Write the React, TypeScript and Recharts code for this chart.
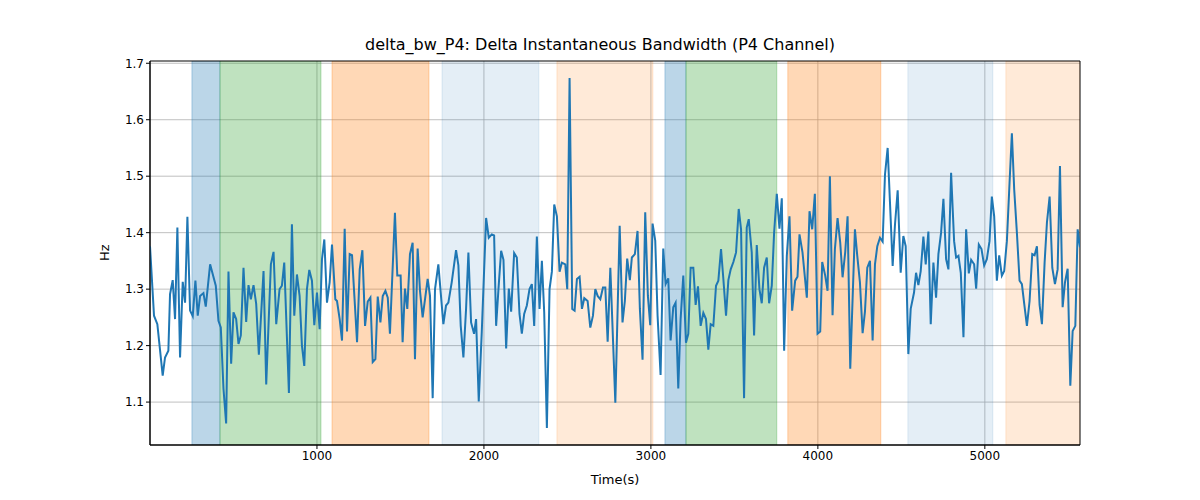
import { LineChart, Line, XAxis, YAxis, CartesianGrid, ReferenceArea } from 'recharts';

// [time, Hz], left to right
const partA: [number, number][] = [
  [0, 1.376], [24, 1.253], [44, 1.238], [76, 1.147], [90, 1.179], [110, 1.191], [120, 1.291], [136, 1.316],
  [150, 1.247], [164, 1.409], [180, 1.179], [196, 1.313], [210, 1.276], [224, 1.428], [240, 1.262], [256, 1.252],
  [272, 1.315], [286, 1.253], [300, 1.288], [320, 1.293], [334, 1.269], [360, 1.344], [394, 1.306], [410, 1.244],
  [424, 1.232], [440, 1.124], [456, 1.062], [470, 1.331], [486, 1.168], [500, 1.259], [516, 1.247], [530, 1.203],
  [544, 1.218], [560, 1.338], [576, 1.242], [590, 1.307], [604, 1.282], [620, 1.307], [636, 1.274], [652, 1.184],
  [680, 1.332], [696, 1.131], [724, 1.344], [740, 1.366], [756, 1.238], [776, 1.3], [790, 1.306], [804, 1.347],
  [832, 1.116], [850, 1.415], [864, 1.253], [880, 1.326], [896, 1.288], [910, 1.2], [924, 1.164], [940, 1.3],
  [954, 1.334], [970, 1.315], [984, 1.236], [1000, 1.294], [1016, 1.229], [1030, 1.353], [1044, 1.388], [1060, 1.276],
  [1076, 1.312], [1090, 1.379], [1110, 1.282], [1120, 1.279], [1136, 1.247], [1150, 1.209], [1166, 1.407], [1180, 1.225],
  [1196, 1.362], [1210, 1.36], [1224, 1.288], [1240, 1.206], [1256, 1.335], [1272, 1.369], [1288, 1.235], [1304, 1.278],
  [1320, 1.285], [1334, 1.171], [1350, 1.176], [1364, 1.287], [1380, 1.241], [1394, 1.288], [1410, 1.297], [1424, 1.285],
  [1437, 1.221],
];
const partB: [number, number][] = [
  [1467, 1.435], [1481, 1.324], [1501, 1.324], [1513, 1.206], [1527, 1.301], [1541, 1.265], [1557, 1.362], [1573, 1.382],
  [1587, 1.176], [1603, 1.372], [1617, 1.297], [1633, 1.25], [1663, 1.318], [1677, 1.288], [1693, 1.107], [1707, 1.3],
  [1727, 1.344], [1757, 1.238], [1773, 1.271], [1787, 1.276], [1807, 1.312], [1833, 1.369], [1847, 1.342], [1861, 1.235],
  [1877, 1.179], [1893, 1.265], [1907, 1.365], [1923, 1.241], [1941, 1.221], [1953, 1.247], [1969, 1.101], [1987, 1.224],
  [2013, 1.426], [2029, 1.391], [2047, 1.397], [2061, 1.395], [2073, 1.235], [2087, 1.3], [2103, 1.368], [2117, 1.352],
  [2133, 1.195], [2149, 1.301], [2163, 1.26], [2181, 1.364], [2197, 1.356], [2213, 1.256], [2227, 1.221], [2241, 1.256],
  [2257, 1.271], [2273, 1.3], [2287, 1.309], [2301, 1.235], [2317, 1.393], [2333, 1.265], [2347, 1.35], [2361, 1.259],
  [2377, 1.054], [2393, 1.3], [2407, 1.331], [2421, 1.45], [2437, 1.429], [2453, 1.331], [2467, 1.347], [2487, 1.344],
  [2499, 1.3], [2513, 1.674], [2529, 1.265], [2543, 1.262], [2557, 1.318], [2573, 1.322], [2587, 1.265], [2601, 1.284],
  [2621, 1.279], [2637, 1.232], [2653, 1.253], [2667, 1.3], [2681, 1.288], [2697, 1.282], [2713, 1.303], [2727, 1.303],
  [2741, 1.207], [2757, 1.338], [2787, 1.099], [2813, 1.412],
];
const partC: [number, number][] = [
  [2830, 1.241], [2844, 1.279], [2858, 1.354], [2874, 1.316], [2886, 1.356], [2904, 1.362], [2920, 1.403], [2934, 1.265],
  [2950, 1.175], [2966, 1.436], [2982, 1.288], [2996, 1.236], [3010, 1.416], [3026, 1.386], [3040, 1.253], [3058, 1.148],
  [3074, 1.372], [3088, 1.309], [3104, 1.319], [3118, 1.209], [3134, 1.268], [3148, 1.276], [3164, 1.124], [3178, 1.247],
  [3194, 1.324], [3210, 1.205], [3224, 1.221], [3238, 1.338], [3254, 1.338], [3268, 1.272], [3282, 1.305], [3298, 1.235],
  [3314, 1.258], [3330, 1.247], [3344, 1.193], [3358, 1.238], [3374, 1.235], [3390, 1.306], [3404, 1.315], [3420, 1.371],
  [3434, 1.318], [3450, 1.253], [3464, 1.316], [3478, 1.335], [3494, 1.348], [3510, 1.365], [3526, 1.442], [3540, 1.406],
  [3558, 1.107], [3574, 1.409], [3586, 1.424], [3604, 1.365], [3618, 1.218], [3634, 1.378], [3650, 1.3], [3664, 1.275],
  [3678, 1.338], [3694, 1.356], [3708, 1.275], [3724, 1.306], [3738, 1.4], [3754, 1.469], [3770, 1.407], [3784, 1.461],
  [3798, 1.191], [3814, 1.359], [3830, 1.429], [3846, 1.262], [3864, 1.315], [3878, 1.322], [3890, 1.397], [3908, 1.365],
  [3934, 1.285], [3950, 1.438], [3966, 1.406], [3982, 1.469], [3998, 1.221], [4014, 1.225], [4026, 1.348], [4044, 1.324],
  [4058, 1.297], [4072, 1.5], [4088, 1.254], [4102, 1.371], [4118, 1.426], [4134, 1.382], [4148, 1.321], [4164, 1.366],
  [4178, 1.429], [4194, 1.159],
];
const partD: [number, number][] = [
  [4222, 1.406], [4236, 1.359], [4252, 1.312], [4268, 1.222], [4282, 1.26], [4296, 1.338], [4312, 1.35], [4328, 1.209],
  [4342, 1.344], [4356, 1.376], [4372, 1.391], [4388, 1.384], [4402, 1.503], [4418, 1.55], [4432, 1.453], [4448, 1.341],
  [4462, 1.415], [4478, 1.475], [4496, 1.329], [4512, 1.394], [4526, 1.376], [4542, 1.185], [4556, 1.265], [4576, 1.294],
  [4588, 1.329], [4602, 1.307], [4616, 1.332], [4632, 1.393], [4646, 1.344], [4662, 1.402], [4676, 1.238], [4692, 1.347],
  [4708, 1.285], [4722, 1.362], [4738, 1.4], [4752, 1.46], [4768, 1.353], [4782, 1.335], [4798, 1.506], [4816, 1.385],
  [4828, 1.356], [4842, 1.359], [4856, 1.329], [4872, 1.215], [4888, 1.406], [4904, 1.328], [4918, 1.352], [4936, 1.344],
  [4948, 1.301], [4964, 1.379], [4980, 1.371], [4996, 1.342], [5012, 1.353], [5028, 1.385], [5042, 1.464], [5056, 1.429],
  [5072, 1.315], [5086, 1.36], [5102, 1.324], [5116, 1.332], [5132, 1.385], [5148, 1.488], [5162, 1.576], [5176, 1.476],
  [5192, 1.4], [5208, 1.315], [5222, 1.309], [5236, 1.274], [5252, 1.235], [5268, 1.279], [5284, 1.362], [5298, 1.36],
  [5312, 1.376], [5328, 1.272], [5342, 1.238], [5358, 1.347], [5372, 1.418], [5388, 1.464], [5404, 1.338], [5420, 1.309],
  [5436, 1.335], [5450, 1.518], [5466, 1.268], [5480, 1.312], [5496, 1.336], [5512, 1.129], [5526, 1.226], [5542, 1.235],
  [5556, 1.406], [5570, 1.374],
];

// shaded phases: start, end, colour, opacity
const spans: [number, number, string, number][] = [
  [251, 419, '#1f77b4', 0.3],
  [419, 1024, '#2ca02c', 0.3],
  [1090, 1671, '#ff7f0e', 0.3],
  [1749, 2329, '#1f77b4', 0.12],
  [2437, 3012, '#ff7f0e', 0.16],
  [3084, 3210, '#1f77b4', 0.3],
  [3210, 3754, '#2ca02c', 0.3],
  [3820, 4377, '#ff7f0e', 0.3],
  [4539, 5048, '#1f77b4', 0.12],
  [5126, 5570, '#ff7f0e', 0.16],
];

const xTicks = [1000, 2000, 3000, 4000, 5000];
const yTicks = [1.1, 1.2, 1.3, 1.4, 1.5, 1.6, 1.7];
const xDomain: [number, number] = [0, 5570];
const yDomain: [number, number] = [1.024, 1.704];

const data = [...partA, ...partB, ...partC, ...partD].map(([t, v]) => ({ t, v }));

const font = 'DejaVu Sans, sans-serif';

export default function App() {
  return (
    <div style={{ position: 'absolute', left: 0, top: 0, width: 1200, height: 500, background: '#fff', fontFamily: font }}>
      <div style={{ position: 'absolute', top: 35, width: 1200, textAlign: 'center', fontSize: 16, color: '#000' }}>
        delta_bw_P4: Delta Instantaneous Bandwidth (P4 Channel)
      </div>
      <div style={{ position: 'absolute', top: 472, left: 150, width: 930, textAlign: 'center', fontSize: 13 }}>Time(s)</div>
      <div style={{ position: 'absolute', left: 97, top: 253, fontSize: 13, transform: 'rotate(-90deg)', transformOrigin: 'left top', width: 20 }}>
        <span style={{ position: 'absolute', left: -8, top: 0 }}>Hz</span>
      </div>
      <LineChart width={1200} height={500} data={data} margin={{ top: 61, right: 120, bottom: 25, left: 100 }}>
        <CartesianGrid stroke="#b0b0b0" strokeWidth={0.8} horizontalValues={yTicks} verticalValues={xTicks} />
        {spans.map(([a, b, c, o], i) => (
          <ReferenceArea key={i} x1={a} x2={b} fill={c} fillOpacity={o} stroke={c} strokeOpacity={o} ifOverflow="hidden" />
        ))}
        <XAxis
          type="number" dataKey="t" domain={xDomain} ticks={xTicks} allowDataOverflow
          height={30} tickSize={4} stroke="#000" tick={{ fill: '#000', fontSize: 12, fontFamily: font }}
        />
        <YAxis
          type="number" domain={yDomain} ticks={yTicks} allowDataOverflow width={50}
          tickFormatter={(v: number) => v.toFixed(1)}
          tickSize={4} stroke="#000" tick={{ fill: '#000', fontSize: 12, fontFamily: font }}
        />
        <Line type="linear" dataKey="v" stroke="#1f77b4" strokeWidth={2} dot={false} isAnimationActive={false} />
        <ReferenceArea
          x1={xDomain[0]} x2={xDomain[1]} y1={yDomain[0]} y2={yDomain[1]}
          fill="none" stroke="#000" strokeWidth={1} ifOverflow="visible"
        />
      </LineChart>
    </div>
  );
}
